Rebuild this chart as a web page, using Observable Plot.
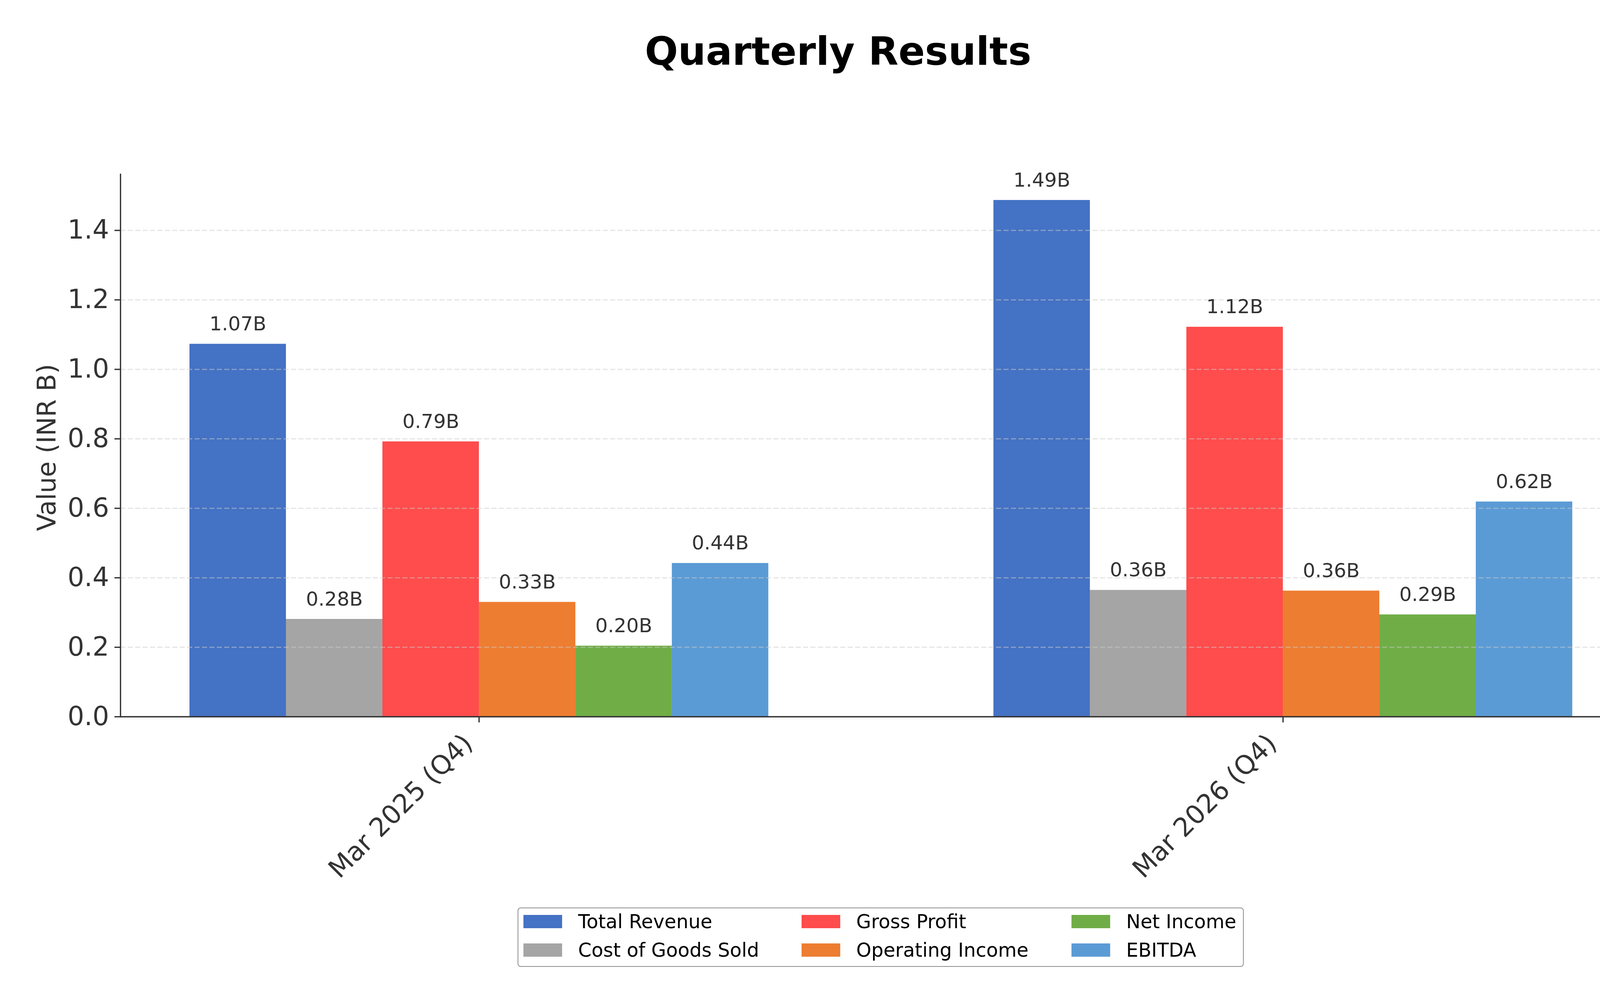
<!DOCTYPE html>
<html>
<head>
<meta charset="utf-8">
<script src="https://cdn.jsdelivr.net/npm/d3@7"></script>
<script src="https://cdn.jsdelivr.net/npm/@observablehq/plot@0.6"></script>
<style>
  html, body { margin: 0; padding: 0; background: #fff; }
  body { width: 4291px; height: 2566px; overflow: hidden; font-family: "DejaVu Sans", sans-serif; }
  #wrap { position: relative; width: 4291px; height: 2566px; }
  #chart { position: absolute; left: 0; top: 0; }
  #title { position: absolute; left: 0; width: 4291px; top: 82px; text-align: center;
           font: bold 100px/100px "DejaVu Sans", sans-serif; color: #000; }
  #legend { position: absolute; left: 1325px; top: 2324px; width: 1855px; height: 148px;
            border: 2.5px solid #8f8f8f; border-radius: 8px; background: #fff; box-sizing: content-box; }
  .item { position: absolute; display: flex; align-items: flex-start; height: 36px; }
  .sw { width: 99px; height: 34px; margin-right: 41px; }
  .lab { font: 49px/36px "DejaVu Sans", sans-serif; color: #000; white-space: nowrap; }
</style>
</head>
<body>
<div id="wrap">
  <div id="chart"></div>
  <div id="title"></div>
  <div id="legend"></div>
</div>
<script>
// ---- data ----
const titleText = "Quarterly Results";
const yLabel = "Value (INR B)";
const quarters = ["Mar 2025 (Q4)", "Mar 2026 (Q4)"];
const metrics = ["Total Revenue", "Cost of Goods Sold", "Gross Profit", "Operating Income", "Net Income", "EBITDA"];
const colors = ["#4472C4", "#A5A5A5", "#FF4C4C", "#ED7D31", "#70AD47", "#5B9BD5"];
const valuesMar2025 = [1.073, 0.281, 0.792, 0.330, 0.204, 0.442];
const valuesMar2026 = [1.487, 0.3645, 1.122, 0.3625, 0.294, 0.619];
const yTicks = [0.0, 0.2, 0.4, 0.6, 0.8, 1.0, 1.2, 1.4];

// grouped bars, as matplotlib places them: group index + (series index - 2.5) * bar width
const barWidth = 0.12;
const seriesByQuarter = [valuesMar2025, valuesMar2026];
const rows = quarters.flatMap((q, qi) =>
  metrics.map((m, mi) => {
    const c = qi + (mi - (metrics.length - 1) / 2) * barWidth;
    return {quarter: q, metric: m, value: seriesByQuarter[qi][mi], x: c, x1: c - barWidth / 2, x2: c + barWidth / 2};
  }));
const quarterTicks = quarters.map((q, i) => ({label: q, x: i}));
const xPad = 0.05 * (rows[rows.length - 1].x2 - rows[0].x1);
const yMax = Math.max(...valuesMar2025, ...valuesMar2026) * 1.05;

// ---- chart ----
const ink = "#333333";
const chart = Plot.plot({
  width: 4291,
  height: 2566,
  marginTop: 446,
  marginBottom: 731,
  marginLeft: 308,
  marginRight: 89,
  style: {fontFamily: "DejaVu Sans", fontSize: "67px", background: "transparent", color: ink},
  x: {domain: [rows[0].x1 - xPad, rows[rows.length - 1].x2 + xPad], axis: null},
  y: {domain: [0, yMax], axis: null},
  color: {domain: metrics, range: colors},
  marks: [
    Plot.rectY(rows, {x1: "x1", x2: "x2", y: "value", fill: "metric"}),
    Plot.ruleY(yTicks.slice(1), {stroke: "#cccccc", strokeOpacity: 0.5,
      strokeWidth: 3, strokeDasharray: "13,6"}),
    Plot.text(rows, {x: "x", y: "value",
      text: d => d.value.toFixed(2) + "B", lineAnchor: "bottom", dy: -35,
      fontSize: 50, fill: ink}),
    Plot.axisY(yTicks, {anchor: "left", tickSize: 15, tickPadding: 14,
      tickFormat: d => d.toFixed(1), fontSize: 67, color: ink, strokeWidth: 3.3, label: null}),
    Plot.axisX(quarterTicks.map(d => d.x), {anchor: "bottom", tickSize: 15, fill: "none",
      stroke: ink, strokeWidth: 3.3, label: null}),
    Plot.text(quarterTicks, {x: "x", text: "label", frameAnchor: "bottom", rotate: -45,
      textAnchor: "end", lineAnchor: "middle", dx: -28, dy: 57, fontSize: 67, fill: ink}),
    Plot.text([yLabel], {text: d => d, frameAnchor: "left", rotate: -90,
      textAnchor: "middle", lineAnchor: "bottom", dx: -167, dy: 5, fontSize: 65, fill: ink}),
    Plot.ruleY([0], {stroke: ink, strokeWidth: 3.3}),
    Plot.frame({anchor: "left", stroke: ink, strokeWidth: 3.3})
  ]
});
document.getElementById("chart").append(chart);

// ---- title ----
document.getElementById("title").textContent = titleText;

// ---- legend (matplotlib ncol=3, column-major) ----
const legend = document.getElementById("legend");
const colLeft = [13, 725, 1416];
const rowTop = [17, 90];
metrics.forEach((m, i) => {
  const col = Math.floor(i / 2), row = i % 2;
  const it = document.createElement("div");
  it.className = "item";
  it.style.left = colLeft[col] + "px";
  it.style.top = rowTop[row] + "px";
  const sw = document.createElement("div");
  sw.className = "sw";
  sw.style.background = colors[i];
  const lab = document.createElement("div");
  lab.className = "lab";
  lab.textContent = m;
  it.append(sw, lab);
  legend.append(it);
});
</script>
</body>
</html>
